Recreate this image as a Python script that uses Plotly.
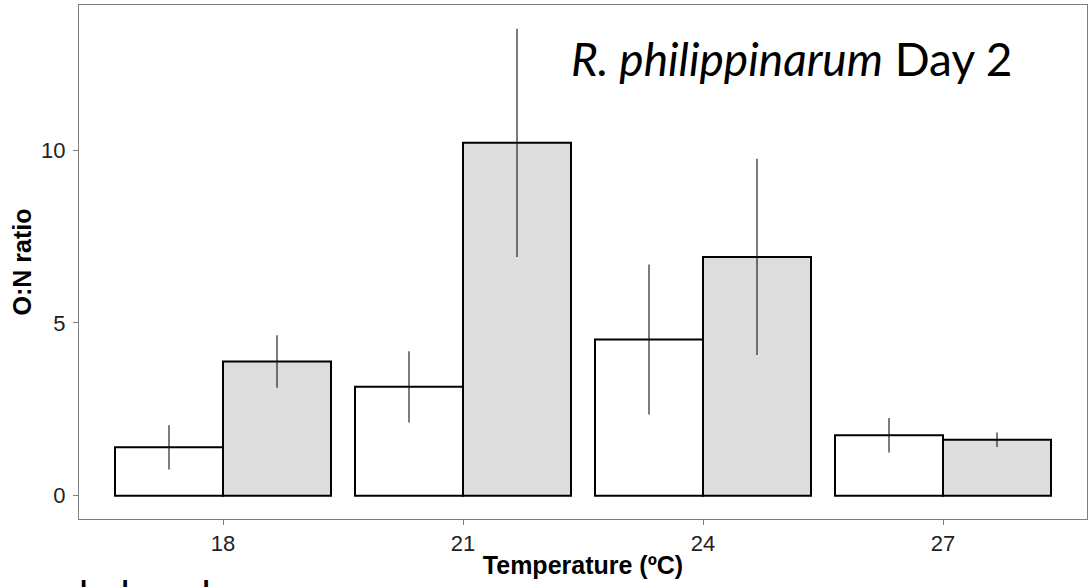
import plotly.graph_objects as go

categories = ["18", "21", "24", "27"]
white_vals = [1.40, 3.15, 4.52, 1.75]
white_err = [0.64, 1.03, 2.17, 0.50]
grey_vals = [3.88, 10.21, 6.91, 1.62]
grey_err = [0.76, 3.30, 2.84, 0.21]
y_ticks = [0, 5, 10]

fig = go.Figure()
fig.add_trace(go.Bar(
    x=categories, y=white_vals, name="A",
    marker=dict(color="white", line=dict(color="black", width=2)),
    error_y=dict(type="data", array=white_err, visible=True, width=0, thickness=1.1, color="#111"),
))
fig.add_trace(go.Bar(
    x=categories, y=grey_vals, name="B",
    marker=dict(color="#DDDDDD", line=dict(color="black", width=2)),
    error_y=dict(type="data", array=grey_err, visible=True, width=0, thickness=1.1, color="#111"),
))

axis_common = dict(
    showgrid=False, zeroline=False, showline=True, mirror=True,
    linecolor="#7f7f7f", linewidth=1, ticks="outside", ticklen=5,
    tickcolor="#7f7f7f", tickwidth=1,
    tickfont=dict(family="Liberation Sans, Arial", size=22, color="#222"),
)

fig.update_layout(
    width=1088, height=587,
    margin=dict(l=79, r=1, t=5, b=68),
    paper_bgcolor="white", plot_bgcolor="white",
    barmode="group", bargap=0.1, bargroupgap=0,
    showlegend=False,
    xaxis=dict(
        **axis_common, type="category", range=[-0.6, 3.6],
        title=dict(text="<b>Temperature (ºC)</b>", standoff=1,
                   font=dict(family="Liberation Sans, Arial", size=25, color="black")),
    ),
    yaxis=dict(
        **axis_common, range=[-0.676, 14.2], tickvals=y_ticks,
        ticklabelstandoff=3,
        title=dict(text="<b>O:N ratio</b>", standoff=2,
                   font=dict(family="Liberation Sans, Arial", size=25, color="black")),
    ),
    annotations=[
        dict(text="<i>R. philippinarum</i> Day 2", xref="paper", yref="paper",
             x=0.486, y=0.954, xanchor="left", yanchor="top", showarrow=False,
             font=dict(family="Lato", size=46, color="black")),
        dict(text="bcbcgcbg", xref="paper", yref="paper",
             x=0.0, y=-0.098, xanchor="left", yanchor="top", showarrow=False,
             xshift=-2,
             font=dict(family="Lato", size=40, color="black")),
    ],
)

fig.write_html("out.html")
